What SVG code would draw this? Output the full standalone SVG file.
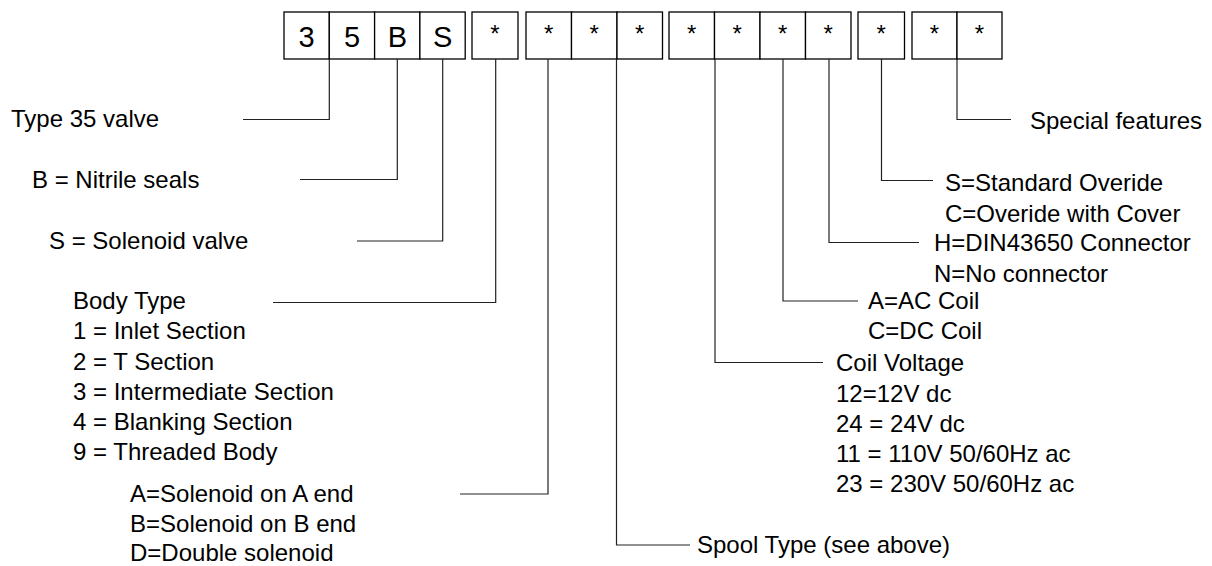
<svg xmlns="http://www.w3.org/2000/svg" width="1212" height="566" viewBox="0 0 1212 566">
<style>
.box{fill:#fff;stroke:#000;stroke-width:1.3}
.bt{font-family:"Liberation Sans",Arial,sans-serif;font-size:29px;fill:#000;text-anchor:middle}
.st{font-family:"Liberation Sans",Arial,sans-serif;font-size:24px;fill:#000;text-anchor:middle}
.lb{font-family:"Liberation Sans",Arial,sans-serif;font-size:24px;fill:#000}
.ln{fill:none;stroke:#222;stroke-width:1.2}
</style>
<rect width="1212" height="566" fill="#fff"/>
<g id="code">
<rect class="box" x="284" y="12" width="45.3" height="47"/>
<rect class="box" x="329.3" y="12" width="45.3" height="47"/>
<rect class="box" x="374.6" y="12" width="45.3" height="47"/>
<rect class="box" x="419.9" y="12" width="45.3" height="47"/>
<rect class="box" x="472" y="12" width="46" height="47"/>
<rect class="box" x="526" y="12" width="45.5" height="47"/>
<rect class="box" x="571.5" y="12" width="45.5" height="47"/>
<rect class="box" x="617" y="12" width="45.5" height="47"/>
<rect class="box" x="669" y="12" width="45.5" height="47"/>
<rect class="box" x="714.5" y="12" width="45.5" height="47"/>
<rect class="box" x="760" y="12" width="45.5" height="47"/>
<rect class="box" x="805.5" y="12" width="45.5" height="47"/>
<rect class="box" x="858" y="12" width="46.5" height="47"/>
<rect class="box" x="912" y="12" width="45" height="47"/>
<rect class="box" x="957" y="12" width="45" height="47"/>
<text class="bt" x="306.6" y="47">3</text>
<text class="bt" x="352" y="47">5</text>
<text class="bt" x="397.3" y="47">B</text>
<text class="bt" x="442.6" y="47">S</text>
<text class="st" x="495" y="42">*</text>
<text class="st" x="548.7" y="42">*</text>
<text class="st" x="594.2" y="42">*</text>
<text class="st" x="639.7" y="42">*</text>
<text class="st" x="691.7" y="42">*</text>
<text class="st" x="737.2" y="42">*</text>
<text class="st" x="782.7" y="42">*</text>
<text class="st" x="828.2" y="42">*</text>
<text class="st" x="881.2" y="42">*</text>
<text class="st" x="934.5" y="42">*</text>
<text class="st" x="979.5" y="42">*</text>
</g>
<g id="connectors">
<polyline class="ln" points="329.3,59 329.3,119.5 243,119.5"/>
<polyline class="ln" points="397.3,59 397.3,179.5 300,179.5"/>
<polyline class="ln" points="442.7,59 442.7,241 357,241"/>
<polyline class="ln" points="495.7,59 495.7,302.5 273,302.5"/>
<polyline class="ln" points="548,59 548,494 460,494"/>
<polyline class="ln" points="616.5,59 616.5,545 690,545"/>
<polyline class="ln" points="715,59 715,362.5 823,362.5"/>
<polyline class="ln" points="783,59 783,301 858,301"/>
<polyline class="ln" points="829,59 829,242.5 919,242.5"/>
<polyline class="ln" points="881.5,59 881.5,180.5 933,180.5"/>
<polyline class="ln" points="957,59 957,119.5 1011,119.5"/>
</g>
<g id="n-type"><text class="lb" x="11" y="127">Type 35 valve</text></g>
<g id="n-seals"><text class="lb" x="32" y="188">B = Nitrile seals</text></g>
<g id="n-solenoid"><text class="lb" x="49" y="249">S = Solenoid valve</text></g>
<g id="n-body">
<text class="lb" x="73" y="309">Body Type</text>
<text class="lb" x="73" y="339">1 = Inlet Section</text>
<text class="lb" x="73" y="370">2 = T Section</text>
<text class="lb" x="73" y="400">3 = Intermediate Section</text>
<text class="lb" x="73" y="430">4 = Blanking Section</text>
<text class="lb" x="73" y="460">9 = Threaded Body</text>
</g>
<g id="n-sol-end">
<text class="lb" x="130" y="502">A=Solenoid on A end</text>
<text class="lb" x="130" y="532">B=Solenoid on B end</text>
<text class="lb" x="130" y="561">D=Double solenoid</text>
</g>
<g id="n-spool"><text class="lb" x="697" y="553">Spool Type (see above)</text></g>
<g id="n-voltage">
<text class="lb" x="836" y="371">Coil Voltage</text>
<text class="lb" x="836" y="402">12=12V dc</text>
<text class="lb" x="836" y="432">24 = 24V dc</text>
<text class="lb" x="836" y="462">11 = 110V 50/60Hz ac</text>
<text class="lb" x="836" y="492">23 = 230V 50/60Hz ac</text>
</g>
<g id="n-coil">
<text class="lb" x="868" y="309">A=AC Coil</text>
<text class="lb" x="868" y="339">C=DC Coil</text>
</g>
<g id="n-connector">
<text class="lb" x="934" y="251">H=DIN43650 Connector</text>
<text class="lb" x="934" y="282">N=No connector</text>
</g>
<g id="n-override">
<text class="lb" x="945" y="191">S=Standard Overide</text>
<text class="lb" x="945" y="222">C=Overide with Cover</text>
</g>
<g id="n-special"><text class="lb" x="1030" y="129">Special features</text></g>
</svg>
